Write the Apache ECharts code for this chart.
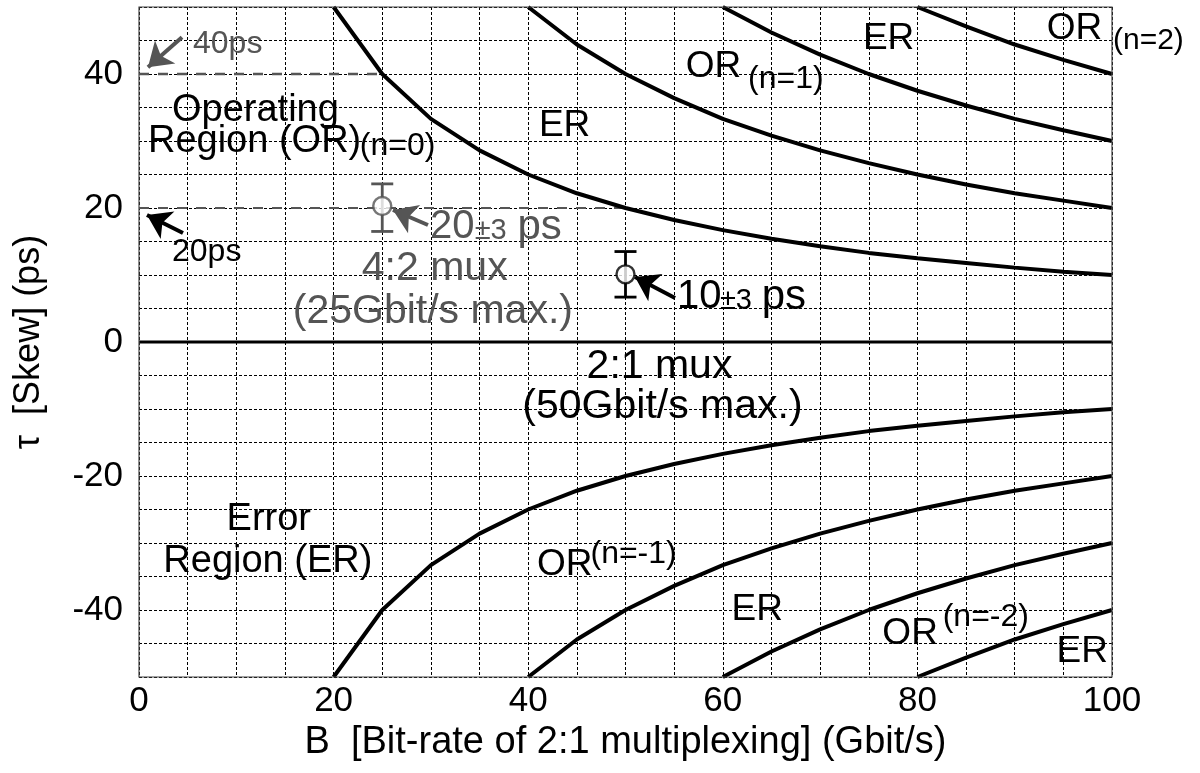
<!DOCTYPE html>
<html><head><meta charset="utf-8">
<script src="https://cdn.jsdelivr.net/npm/echarts@6/dist/echarts.min.js"></script>
<style>html,body{margin:0;padding:0;background:#fff}#c{width:1200px;height:773px}</style>
</head><body><div id="c"></div>
<script>
// ---- data ----
const bitRateFrom20 = [20,25,30,35,40,45,50,55,60,65,70,75,80,85,90,95,100];
const bitRateFrom40 = [40,45,50,55,60,65,70,75,80,85,90,95,100];
const bitRateFrom60 = [60,65,70,75,80,85,90,95,100];
const bitRateFrom80 = [80,85,90,95,100];
const tauBoundary1 = [50,40,33.3,28.6,25,22.2,20,18.2,16.7,15.4,14.3,13.3,12.5,11.8,11.1,10.5,10];
const tauBoundary2 = [50,44.4,40,36.4,33.3,30.8,28.6,26.7,25,23.5,22.2,21.1,20];
const tauBoundary3 = [50,46.2,42.9,40,37.5,35.3,33.3,31.6,30];
const tauBoundary4 = [50,47.1,44.4,42.1,40];
const tauBoundaryM1 = [-50,-40,-33.3,-28.6,-25,-22.2,-20,-18.2,-16.7,-15.4,-14.3,-13.3,-12.5,-11.8,-11.1,-10.5,-10];
const tauBoundaryM2 = [-50,-44.4,-40,-36.4,-33.3,-30.8,-28.6,-26.7,-25,-23.5,-22.2,-21.1,-20];
const tauBoundaryM3 = [-50,-46.2,-42.9,-40,-37.5,-35.3,-33.3,-31.6,-30];
const tauBoundaryM4 = [-50,-47.1,-44.4,-42.1,-40];
const zeroLineX = [0,100];
const zeroLineY = [0,0];
const ref40X = [0,25];
const ref40Y = [40,40];
const ref20X = [0,50];
const ref20Y = [20,20];
// measured skew: [bit-rate, value, low, high]
const mux42Point = [25, 20.3, 16.5, 23.6];
const mux21Point = [50, 10.1, 6.7, 13.5];
const xTickLabels = [0,20,40,60,80,100];
const yTickLabels = [-40,-20,0,20,40];

// ---- styling / annotation layout ----
const FF = '"Liberation Sans", Arial, Helvetica, sans-serif';
const GRAY = '#555555';
const zip = (xs, ys) => xs.map((x, i) => [x, ys[i]]);

const annotations = [
  {t:'40ps', x:5.55, y:44.4, s:32, c:GRAY},
  {t:'Operating', x:3.39, y:34.6, s:38, c:'#000'},
  {t:'Region (OR)', x:0.92, y:29.85, s:38, c:'#000'},
  {t:'(n=0)', x:22.7, y:29.2, s:32, c:'#000'},
  {t:'ER', x:41.1, y:32.2, s:37, c:'#000'},
  {t:'OR', x:56.2, y:41.1, s:37, c:'#000'},
  {t:'(n=1)', x:62.6, y:39.3, s:32, c:'#000'},
  {t:'ER', x:74.4, y:45.2, s:37, c:'#000'},
  {t:'OR', x:93.3, y:46.7, s:37, c:'#000'},
  {t:'(n=2)', x:100.1, y:44.9, s:30, c:'#000'},
  {t:'20ps', x:3.39, y:13.4, s:32, c:'#000'},
  {t:'20', x:29.9, y:17.1, s:40, c:GRAY},
  {t:'±3', x:34.5, y:16.5, s:29, c:GRAY},
  {t:'ps', x:38.9, y:17.1, s:42, c:GRAY},
  {t:'4:2 mux', x:22.9, y:11.0, s:41, c:GRAY},
  {t:'(25Gbit/s max.)', x:15.8, y:4.5, s:41, c:GRAY},
  {t:'10', x:55.3, y:6.7, s:40, c:'#000'},
  {t:'±3', x:59.7, y:6.1, s:29, c:'#000'},
  {t:'ps', x:64.0, y:6.7, s:42, c:'#000'},
  {t:'2:1 mux', x:46.0, y:-3.7, s:41, c:'#000'},
  {t:'(50Gbit/s max.)', x:39.4, y:-9.7, s:41, c:'#000'},
  {t:'Error', x:9.0, y:-26.5, s:38, c:'#000'},
  {t:'Region (ER)', x:2.5, y:-32.8, s:38, c:'#000'},
  {t:'OR', x:40.9, y:-33.2, s:37, c:'#000'},
  {t:'(n=-1)', x:46.4, y:-31.6, s:32, c:'#000'},
  {t:'ER', x:60.9, y:-39.9, s:37, c:'#000'},
  {t:'OR', x:76.4, y:-43.5, s:37, c:'#000'},
  {t:'(n=-2)', x:82.6, y:-41.0, s:32, c:'#000'},
  {t:'ER', x:94.3, y:-46.3, s:37, c:'#000'}
];
const arrows = [
  {from:[4.42,45.5], to:[0.92,41.0], c:GRAY},
  {from:[4.52,16.27], to:[0.82,18.96], c:'#000'},
  {from:[29.7,17.46], to:[26.1,19.7], c:GRAY},
  {from:[55.09,6.57], to:[50.98,9.70], c:'#000'}
];

function curve(xs, ys) {
  return {type:'line', data: zip(xs, ys), symbol:'none', smooth:false, z:5,
    lineStyle:{color:'#000', width:4}, silent:true, animation:false};
}
function errorBar(pt, color) {
  return [{
    type:'custom', z:6, animation:false, silent:true,
    data:[[pt[0], pt[2], pt[3]]],
    renderItem(params, api) {
      const x = api.value(0);
      const pl = api.coord([x, api.value(1)]);
      const ph = api.coord([x, api.value(2)]);
      const w = 11;
      const st = {stroke:color, lineWidth:2.8};
      return {type:'group', children:[
        {type:'line', shape:{x1:pl[0], y1:pl[1], x2:ph[0], y2:ph[1]}, style:st},
        {type:'line', shape:{x1:pl[0]-w, y1:pl[1], x2:pl[0]+w, y2:pl[1]}, style:st},
        {type:'line', shape:{x1:ph[0]-w, y1:ph[1], x2:ph[0]+w, y2:ph[1]}, style:st}
      ]};
    }
  }, {
    type:'scatter', z:7, animation:false, silent:true,
    data:[[pt[0], pt[1]]], symbol:'circle', symbolSize:18,
    itemStyle:{color:'#fff', borderColor:color, borderWidth:2.4}
  }];
}

const chart = echarts.init(document.getElementById('c'), null, {renderer:'canvas'});
const option = {
  animation:false,
  backgroundColor:'#fff',
  textStyle:{fontFamily:FF},
  grid:{left:139, right:88, top:7, bottom:96, show:true, borderColor:'#444', borderWidth:1.2, z:10},
  xAxis:{
    type:'value', min:0, max:100, interval:5,
    name:'B  [Bit-rate of 2:1 multiplexing] (Gbit/s)', nameLocation:'middle', nameGap:16,
    nameTextStyle:{fontSize:38, color:'#000', fontFamily:FF},
    axisLine:{show:false}, axisTick:{show:false},
    axisLabel:{fontSize:35, color:'#000', margin:7, fontFamily:FF,
      formatter: v => xTickLabels.includes(v) ? String(v) : ''},
    splitLine:{show:true, lineStyle:{color:'#000', width:1, type:[3,2]}}
  },
  yAxis:{
    type:'value', min:-50, max:50, interval:5,
    name:'τ  [Skew] (ps)', nameLocation:'middle', nameGap:92,
    nameTextStyle:{fontSize:36, color:'#000', fontFamily:FF},
    axisLine:{show:false}, axisTick:{show:false},
    axisLabel:{fontSize:35, color:'#000', margin:16, fontFamily:FF,
      formatter: v => yTickLabels.includes(v) ? String(v) : ''},
    splitLine:{show:true, lineStyle:{color:'#000', width:1, type:[3,2]}}
  },
  series:[
    {type:'line', data:zip(ref40X, ref40Y), symbol:'none', z:3, silent:true,
      lineStyle:{color:'#555', width:2.6, type:[10,9]}},
    {type:'line', data:zip(ref20X, ref20Y), symbol:'none', z:3, silent:true,
      lineStyle:{color:'#555', width:2.2, type:[10,9]}},
    {type:'line', data:zip(zeroLineX, zeroLineY), symbol:'none', z:5, silent:true,
      lineStyle:{color:'#000', width:3.2}},
    curve(bitRateFrom20, tauBoundary1),
    curve(bitRateFrom40, tauBoundary2),
    curve(bitRateFrom60, tauBoundary3),
    curve(bitRateFrom80, tauBoundary4),
    curve(bitRateFrom20, tauBoundaryM1),
    curve(bitRateFrom40, tauBoundaryM2),
    curve(bitRateFrom60, tauBoundaryM3),
    curve(bitRateFrom80, tauBoundaryM4),
    ...errorBar(mux42Point, GRAY),
    ...errorBar(mux21Point, '#000'),
    ...arrows.map(a => ({
      type:'lines', coordinateSystem:'cartesian2d', z:8, silent:true, animation:false,
      symbol:['none','arrow'], symbolSize:23,
      lineStyle:{color:a.c, width:4, opacity:1},
      data:[{coords:[a.from, a.to]}]
    }))
  ]
};
chart.setOption(option);
const graphics = annotations.map(a => {
  const p = chart.convertToPixel({gridIndex:0}, [a.x, a.y]);
  return {type:'text', x:p[0], y:p[1], z:20, silent:true,
    style:{text:a.t, fontSize:a.s, fill:a.c, fontFamily:FF, align:'left', verticalAlign:'middle'}};
});
chart.setOption({graphic:graphics});
</script></body></html>
